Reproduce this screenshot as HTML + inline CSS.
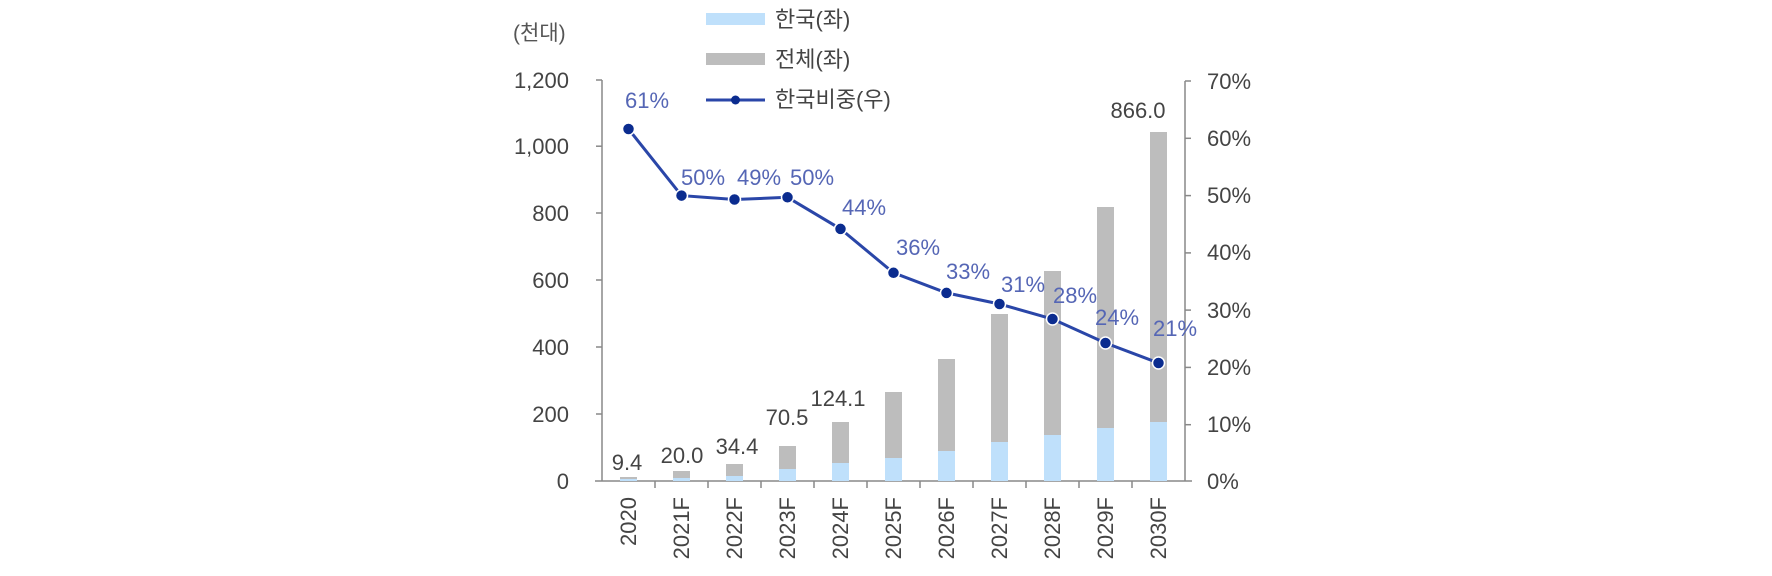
<!DOCTYPE html>
<html><head><meta charset="utf-8"><style>
html,body{margin:0;padding:0;background:#fff;}
svg{display:block;}
text{font-family:"Liberation Sans","Noto Sans CJK KR","NanumGothic",sans-serif;}
</style></head><body>
<svg width="1772" height="576" viewBox="0 0 1772 576" xmlns="http://www.w3.org/2000/svg">
<rect x="706" y="13" width="59" height="12" fill="#bfe0fb"/>
<text x="775" y="27" font-size="22" fill="#444">한국(좌)</text>
<rect x="706" y="53" width="59" height="12" fill="#bdbdbd"/>
<text x="775" y="67" font-size="22" fill="#444">전체(좌)</text>
<line x1="706" y1="100" x2="765" y2="100" stroke="#2a46a8" stroke-width="3"/>
<circle cx="735.5" cy="100" r="4.5" fill="#0b2c8f"/>
<text x="775" y="107" font-size="22" fill="#444">한국비중(우)</text>
<text x="513" y="40" font-size="21" fill="#555">(천대)</text>
<g stroke="#888" stroke-width="1.5" fill="none">
<line x1="602" y1="80" x2="602" y2="481"/>
<line x1="1185" y1="81" x2="1185" y2="481"/>
<line x1="595" y1="481" x2="1192" y2="481"/>
<line x1="596" y1="80" x2="602" y2="80"/><line x1="596" y1="146.2" x2="602" y2="146.2"/><line x1="596" y1="213" x2="602" y2="213"/><line x1="596" y1="280" x2="602" y2="280"/><line x1="596" y1="347" x2="602" y2="347"/><line x1="596" y1="414" x2="602" y2="414"/>
<line x1="1185" y1="81" x2="1191" y2="81"/><line x1="1185" y1="138.3" x2="1191" y2="138.3"/><line x1="1185" y1="195.6" x2="1191" y2="195.6"/><line x1="1185" y1="252.9" x2="1191" y2="252.9"/><line x1="1185" y1="310.1" x2="1191" y2="310.1"/><line x1="1185" y1="367.4" x2="1191" y2="367.4"/><line x1="1185" y1="424.7" x2="1191" y2="424.7"/>
<line x1="655" y1="481" x2="655" y2="488"/><line x1="708" y1="481" x2="708" y2="488"/><line x1="761" y1="481" x2="761" y2="488"/><line x1="814" y1="481" x2="814" y2="488"/><line x1="867" y1="481" x2="867" y2="488"/><line x1="920" y1="481" x2="920" y2="488"/><line x1="973" y1="481" x2="973" y2="488"/><line x1="1026" y1="481" x2="1026" y2="488"/><line x1="1079" y1="481" x2="1079" y2="488"/><line x1="1132" y1="481" x2="1132" y2="488"/>
</g>
<g font-size="22" fill="#444" text-anchor="end">
<text x="569" y="88">1,200</text><text x="569" y="154">1,000</text><text x="569" y="221">800</text><text x="569" y="288">600</text><text x="569" y="355">400</text><text x="569" y="422">200</text><text x="569" y="489">0</text>
</g>
<g font-size="22" fill="#444">
<text x="1207" y="89">70%</text><text x="1207" y="146">60%</text><text x="1207" y="203">50%</text><text x="1207" y="260">40%</text><text x="1207" y="318">30%</text><text x="1207" y="375">20%</text><text x="1207" y="432">10%</text><text x="1207" y="489">0%</text>
</g>
<g fill="#bdbdbd">
<rect x="620" y="477" width="17" height="4"/>
<rect x="673" y="471" width="17" height="10"/>
<rect x="726" y="464" width="17" height="17"/>
<rect x="779" y="446" width="17" height="35"/>
<rect x="832" y="422" width="17" height="59"/>
<rect x="885" y="392" width="17" height="89"/>
<rect x="938" y="359" width="17" height="122"/>
<rect x="991" y="314" width="17" height="167"/>
<rect x="1044" y="271" width="17" height="210"/>
<rect x="1097" y="207" width="17" height="274"/>
<rect x="1150" y="132" width="17" height="349"/>
</g>
<g fill="#bfe0fb">
<rect x="620" y="479" width="17" height="2"/>
<rect x="673" y="478" width="17" height="3"/>
<rect x="726" y="476" width="17" height="5"/>
<rect x="779" y="469" width="17" height="12"/>
<rect x="832" y="463" width="17" height="18"/>
<rect x="885" y="458" width="17" height="23"/>
<rect x="938" y="451" width="17" height="30"/>
<rect x="991" y="442" width="17" height="39"/>
<rect x="1044" y="435" width="17" height="46"/>
<rect x="1097" y="428" width="17" height="53"/>
<rect x="1150" y="422" width="17" height="59"/>
</g>
<g font-size="22" fill="#444" text-anchor="middle">
<text x="627" y="470">9.4</text><text x="682" y="463">20.0</text><text x="737" y="454">34.4</text><text x="787" y="425">70.5</text><text x="838" y="406">124.1</text><text x="1138" y="118">866.0</text>
</g>
<polyline fill="none" stroke="#2a46a8" stroke-width="3" points="628.5,129 681.5,195.6 734.5,199.5 787.5,197.3 840.5,228.9 893.5,272.8 946.5,292.9 999.5,304 1052.5,319 1105.5,343 1158.5,363"/>
<g fill="#0b2c8f" stroke="#fff" stroke-width="1.5">
<circle cx="628.5" cy="129" r="6"/><circle cx="681.5" cy="195.6" r="6"/><circle cx="734.5" cy="199.5" r="6"/><circle cx="787.5" cy="197.3" r="6"/><circle cx="840.5" cy="228.9" r="6"/><circle cx="893.5" cy="272.8" r="6"/><circle cx="946.5" cy="292.9" r="6"/><circle cx="999.5" cy="304" r="6"/><circle cx="1052.5" cy="319" r="6"/><circle cx="1105.5" cy="343" r="6"/><circle cx="1158.5" cy="363" r="6"/>
</g>
<g font-size="22" fill="#5566b5" text-anchor="middle">
<text x="647" y="108">61%</text><text x="703" y="185">50%</text><text x="759" y="185">49%</text><text x="812" y="185">50%</text><text x="864" y="215">44%</text><text x="918" y="255">36%</text><text x="968" y="279">33%</text><text x="1023" y="292">31%</text><text x="1075" y="303">28%</text><text x="1117" y="325">24%</text><text x="1175" y="336">21%</text>
</g>
<g font-size="22" fill="#444" text-anchor="end">
<text transform="translate(636,497) rotate(-90)">2020</text>
<text transform="translate(689,497) rotate(-90)">2021F</text>
<text transform="translate(742,497) rotate(-90)">2022F</text>
<text transform="translate(795,497) rotate(-90)">2023F</text>
<text transform="translate(848,497) rotate(-90)">2024F</text>
<text transform="translate(901,497) rotate(-90)">2025F</text>
<text transform="translate(954,497) rotate(-90)">2026F</text>
<text transform="translate(1007,497) rotate(-90)">2027F</text>
<text transform="translate(1060,497) rotate(-90)">2028F</text>
<text transform="translate(1113,497) rotate(-90)">2029F</text>
<text transform="translate(1166,497) rotate(-90)">2030F</text>
</g>
</svg>
</body></html>
